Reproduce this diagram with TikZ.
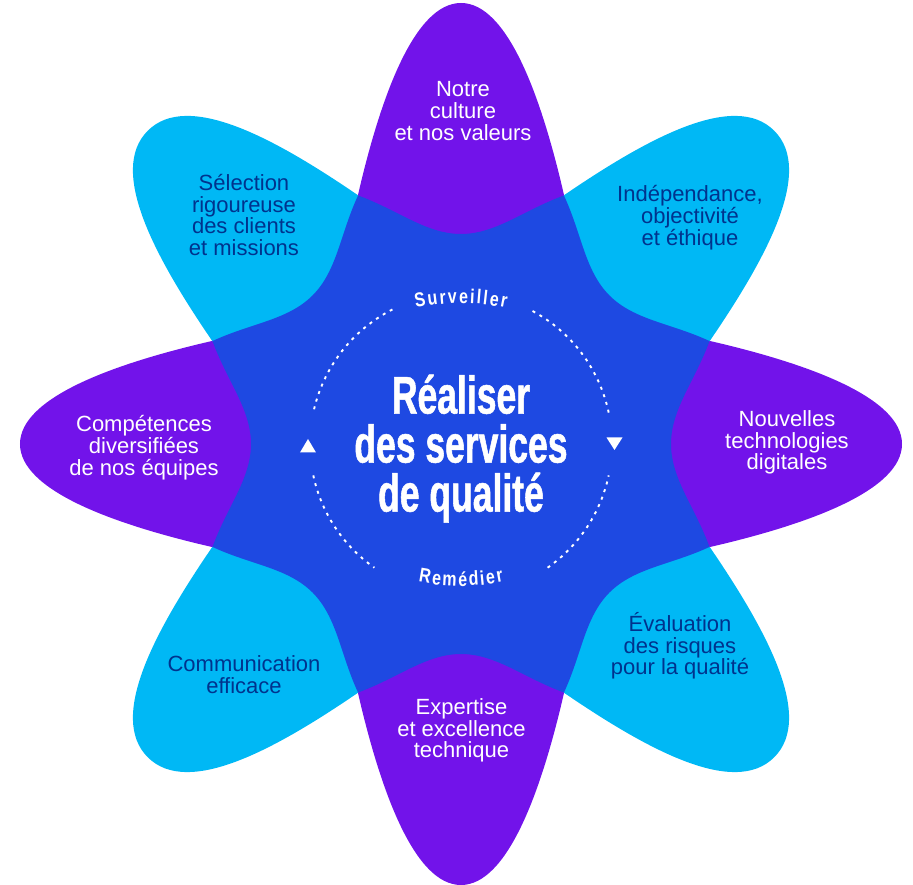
\documentclass[tikz,border=0pt]{standalone}
\usepackage{fontspec}
\usepackage{tikz}
\usetikzlibrary{decorations.text}
\setmainfont{Liberation Sans}
\newfontfamily\titlefont[FakeStretch=0.67,FakeBold=1]{Liberation Sans}
\newfontfamily\loopfont[FakeStretch=0.8]{Liberation Sans}
\newcommand{\loopstyle}{\loopfont\bfseries\fontsize{20}{20}\selectfont}
\definecolor{kpurple}{HTML}{7213EA}
\definecolor{kcyan}{HTML}{00B8F5}
\definecolor{kblue}{HTML}{1E49E2}
\definecolor{knavy}{HTML}{00338D}
\tikzset{
  petaltext/.style={align=center, font=\fontsize{22}{21.7}\selectfont},
  onpurple/.style={petaltext, text=white},
  oncyan/.style={petaltext, text=knavy},
  loopline/.style={white, line width=1.9pt, dash pattern=on 3pt off 5pt},
  looplabel/.style={decorate, decoration={text along path, text={|\loopstyle|#1}, text align={fit to path}, text color=white}}
}

\begin{document}
\begin{tikzpicture}[x=1pt, y=1pt]
\useasboundingbox (-461,-441) rectangle (452,444);

\foreach \a in {45,135,225,315}
  \fill[kcyan, rotate=\a] (249,-103) .. controls (350,-84) and (443,-56) .. (443,0) .. controls (443,56) and (350,84) .. (249,103) -- (0,0) -- cycle;
\foreach \a in {0,90,180,270}
  \fill[kpurple, rotate=\a] (249,-103) .. controls (349,-80) and (441,-46) .. (441,0) .. controls (441,46) and (349,80) .. (249,103) -- (0,0) -- cycle;

\fill[kblue] (-22.5:269) \foreach \a in {0,45,...,315} { .. controls (\a-15.07:242.3) and (\a-9.46:212.9) .. (\a:210) .. controls (\a+9.46:212.9) and (\a+15.07:242.3) .. (\a+22.5:269)} -- cycle;

\draw[loopline] (12:151) arc[start angle=12, end angle=62, radius=151pt];
\draw[loopline] (117:151) arc[start angle=117, end angle=168, radius=151pt];
\draw[loopline] (192:151) arc[start angle=192, end angle=235, radius=151pt];
\draw[loopline] (305:151) arc[start angle=305, end angle=348, radius=151pt];
\fill[white] (-153,5) -- (-161,-8.5) -- (-145,-8.5) -- cycle;
\fill[white] (153.5,-6) -- (145.5,6.5) -- (161.5,6.5) -- cycle;

\path[looplabel=Surveiller] (-45,136.05) arc[start angle=101.8, end angle=78.2, radius=220pt];
\path[looplabel=Remédier] (-42.7,-137.8) arc[start angle=258.8, end angle=281.2, radius=220pt];

\node[text=white, align=center, font=\titlefont\bfseries\fontsize{53}{49}\selectfont] (title) at (0,-4.6) {Réaliser\\des services\\de qualité};

\node[onpurple] (culture) at (2,333) {Notre\\culture\\et nos valeurs};
\node[oncyan] (ethique) at (229,226.5) {Indépendance,\\objectivité\\et éthique};
\node[onpurple] (digital) at (326,1.4) {Nouvelles\\technologies\\digitales};
\node[oncyan] (risques) at (219,-201.8) {Évaluation\\des risques\\pour la qualité};
\node[onpurple] (expertise) at (0.5,-286.4) {Expertise\\et excellence\\technique};
\node[oncyan] (communication) at (-217,-230.3) {Communication\\efficace};
\node[onpurple] (competences) at (-317,-3.5) {Compétences\\diversifiées\\de nos équipes};
\node[oncyan] (selection) at (-217,229) {Sélection\\rigoureuse\\des clients\\et missions};
\end{tikzpicture}
\end{document}
